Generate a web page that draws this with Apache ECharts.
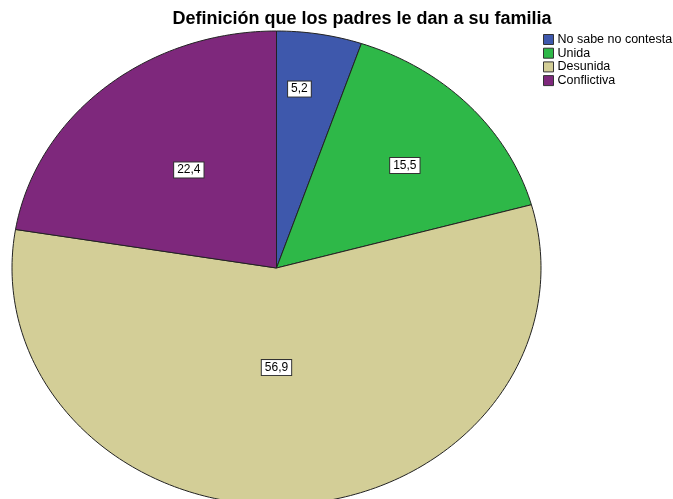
<!DOCTYPE html>
<html>
<head>
<meta charset="utf-8">
<script src="https://cdn.jsdelivr.net/npm/echarts@6/dist/echarts.min.js"></script>
<style>
  html, body { margin: 0; padding: 0; background: #fff; }
  #chart { width: 673px; height: 499px; }
</style>
</head>
<body>
<div id="chart"></div>
<script>
const categories = ['No sabe no contesta', 'Unida', 'Desunida', 'Conflictiva']
const percents = [5.2, 15.5, 56.9, 22.4]
const colors = ['#3e58ac', '#2eb848', '#d3ce97', '#7e287c']
// label placement inside each slice: share of the radius, share of the slice angle
const labelRadius = [0.76, 0.65, 0.42, 0.53]
const labelAngle = [0.35, 0.53, 0.515, 0.52]

const total = percents.reduce((a, b) => a + b, 0)
let acc = 0
const slices = percents.map((v) => {
  const s = acc / total
  acc += v
  return [0, 0, s, acc / total, v]
})

function renderSlice(params, api) {
  const i = params.seriesIndex
  const start = api.value(2) * Math.PI * 2
  const end = api.value(3) * Math.PI * 2
  const steps = Math.max(2, Math.ceil((end - start) / 0.02))
  const pts = [api.coord([0, 0])]
  for (let k = 0; k <= steps; k++) {
    const a = start + (end - start) * k / steps
    pts.push(api.coord([Math.sin(a), Math.cos(a)]))
  }
  const la = start + (end - start) * labelAngle[i]
  const lp = api.coord([Math.sin(la) * labelRadius[i], Math.cos(la) * labelRadius[i]])
  return {
    type: 'group',
    children: [
      {
        type: 'polygon',
        shape: { points: pts },
        style: { fill: colors[i], stroke: '#222', lineWidth: 1 },
      },
      {
        type: 'text',
        x: lp[0],
        y: lp[1],
        style: {
          text: api.value(4).toFixed(1).replace('.', ','),
          align: 'center',
          verticalAlign: 'middle',
          font: '12px "Liberation Sans", Arial, sans-serif',
          fill: '#000',
          backgroundColor: '#fff',
          borderColor: '#333',
          borderWidth: 1,
          padding: [2, 3, 1, 3],
        },
        z2: 10,
      },
    ],
  }
}

const chart = echarts.init(document.getElementById('chart'))
chart.setOption({
  animation: false,
  title: {
    text: 'Definición que los padres le dan a su familia',
    left: 362,
    textAlign: 'center',
    top: 10,
    padding: 0,
    textStyle: {
      fontFamily: '"Liberation Sans", Arial, sans-serif',
      fontWeight: 'bold',
      fontSize: 18,
      color: '#000',
    },
  },
  legend: {
    orient: 'vertical',
    left: 543,
    top: 33,
    padding: 0,
    icon: 'rect',
    itemWidth: 10,
    itemHeight: 10,
    itemGap: 0.7,
    data: categories,
    itemStyle: { borderColor: '#333', borderWidth: 1 },
    textStyle: {
      fontFamily: '"Liberation Sans", Arial, sans-serif',
      fontSize: 12.5,
      color: '#000',
      padding: [0, 0, 0, -1],
    },
  },
  grid: { left: 12, top: 31, width: 529, height: 474, outerBoundsMode: 'none' },
  xAxis: { type: 'value', min: -1, max: 1, show: false },
  yAxis: { type: 'value', min: -1, max: 1, show: false },
  series: categories.map((name, i) => ({
    name: name,
    type: 'custom',
    coordinateSystem: 'cartesian2d',
    itemStyle: { color: colors[i] },
    encode: { x: 0, y: 1 },
    renderItem: renderSlice,
    data: [slices[i]],
  })),
})
</script>
</body>
</html>
